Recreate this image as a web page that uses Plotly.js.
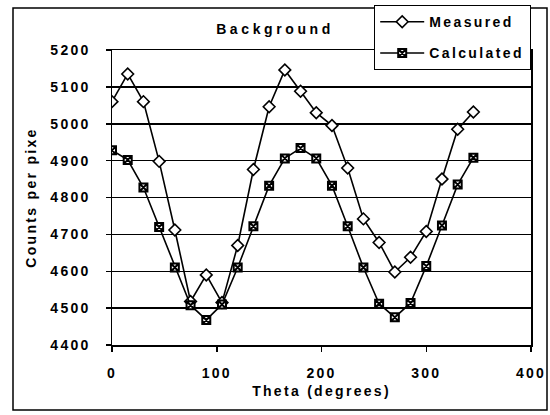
<!DOCTYPE html>
<html>
<head>
<meta charset="utf-8">
<script src="https://cdn.plot.ly/plotly-3.0.1.min.js"></script>
<style>
html, body { margin: 0; padding: 0; background: #fff; }
#chart { width: 550px; height: 415px; }
text { letter-spacing: 2.3px; }
text.gtitle { letter-spacing: 3.6px; }
text.legendtext { letter-spacing: 2.4px; }
</style>
</head>
<body>
<div id="chart"></div>
<script>
const theta = [0, 15, 30, 45, 60, 75, 90, 105, 120, 135, 150, 165, 180, 195, 210, 225, 240, 255, 270, 285, 300, 315, 330, 345];
const measured = [5060, 5135, 5060, 4898, 4712, 4518, 4590, 4515, 4670, 4876, 5046, 5146, 5088, 5030, 4995, 4880, 4742, 4678, 4598, 4638, 4708, 4850, 4985, 5032];
const calculated = [4928, 4902, 4827, 4720, 4610, 4508, 4468, 4510, 4610, 4722, 4832, 4906, 4934, 4906, 4832, 4722, 4610, 4512, 4475, 4514, 4614, 4724, 4835, 4908];
const seriesNames = ["Measured", "Calculated"];
const xTicks = [0, 100, 200, 300, 400];
const yTicks = [4400, 4500, 4600, 4700, 4800, 4900, 5000, 5100, 5200];

const FONT = "Liberation Sans, Arial, sans-serif";

const traces = [
  {
    x: theta, y: measured, name: seriesNames[0], type: "scatter", mode: "lines+markers",
    legendgroup: "a",
    line: { color: "#000", width: 1.6 },
    marker: { symbol: "diamond", size: 9, color: "#fff", line: { color: "#000", width: 1.6 } }
  },
  {
    x: theta, y: calculated, name: seriesNames[1], type: "scatter", mode: "lines+markers",
    legendgroup: "b",
    line: { color: "#000", width: 1.6 },
    marker: { symbol: "square-x", size: 8, color: "#fff", line: { color: "#000", width: 2 } }
  }
];

const layout = {
  width: 550, height: 415,
  margin: { l: 112, r: 19, t: 50, b: 70, autoexpand: false },
  paper_bgcolor: "#fff", plot_bgcolor: "#fff",
  font: { family: FONT, size: 14, color: "#000", weight: "bold" },
  title: {
    text: "Background", xref: "container", x: 0.5, xanchor: "center",
    yref: "container", y: 1 - 29 / 415, yanchor: "middle",
    font: { family: FONT, size: 14, weight: "bold", color: "#000" }
  },
  xaxis: {
    range: [0, 400], tickvals: xTicks, ticktext: xTicks.map(String),
    ticks: "outside", ticklen: 5, tickwidth: 1.5, tickcolor: "#000",
    showline: true, linecolor: "#000", linewidth: 1.5, mirror: true,
    showgrid: false, zeroline: false, ticklabelstandoff: 10,
    tickfont: { family: FONT, size: 14, weight: "bold" },
    title: { text: "Theta (degrees)", standoff: 6, font: { family: FONT, size: 14, weight: "bold" } }
  },
  yaxis: {
    range: [4400, 5200], tickvals: yTicks, ticktext: yTicks.map(String),
    ticks: "outside", ticklen: 5, tickwidth: 1.5, tickcolor: "#000",
    showline: true, linecolor: "#000", linewidth: 1.5, mirror: true,
    showgrid: true, gridcolor: "#000", gridwidth: 1.5, zeroline: false,
    ticklabelstandoff: 12,
    tickfont: { family: FONT, size: 14, weight: "bold" },
    title: { text: "Counts per pixe", standoff: 10, font: { family: FONT, size: 14, weight: "bold" } }
  },
  showlegend: true,
  legend: {
    x: (374 - 112) / 419, xanchor: "left", y: (345 - 5) / 295, yanchor: "top",
    bgcolor: "#fff", bordercolor: "#000", borderwidth: 1.2,
    traceorder: "grouped", tracegroupgap: 10, itemwidth: 44,
    font: { family: FONT, size: 14, weight: "bold", color: "#000" }
  },
  shapes: [
    {
      type: "rect", xref: "paper", yref: "paper",
      x0: (13 - 112) / 419, x1: (547 - 112) / 419,
      y0: (345 - 410) / 295, y1: (345 - 8) / 295,
      line: { color: "#000", width: 1.5 }, fillcolor: "rgba(0,0,0,0)", layer: "below"
    }
  ]
};

Plotly.newPlot("chart", traces, layout, { staticPlot: true, displayModeBar: false });
</script>
</body>
</html>
